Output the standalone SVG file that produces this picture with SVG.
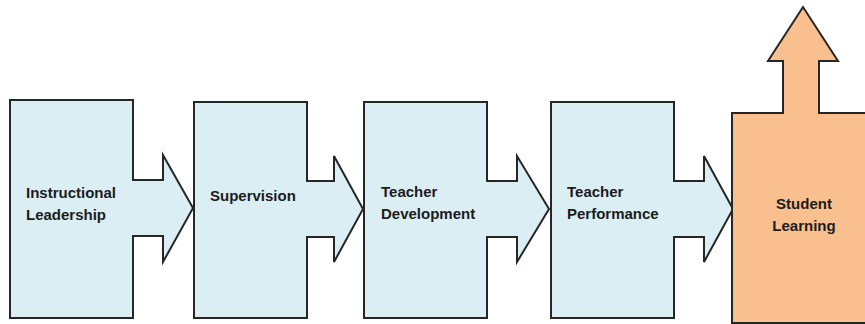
<svg xmlns="http://www.w3.org/2000/svg" width="865" height="324" viewBox="0 0 865 324">
  <style>
    .stage { fill: #dbeef4; stroke: #262626; stroke-width: 2; stroke-linejoin: miter; }
    .goal { fill: #f9bf8f; stroke: #262626; stroke-width: 2; stroke-linejoin: miter; }
    .label { font-family: "Liberation Sans", Arial, sans-serif; font-weight: bold; font-size: 15px; fill: #1c1c1c; }
  </style>
  <rect width="865" height="324" fill="#ffffff"/>

  <g id="instructional-leadership">
    <path class="stage" d="M10,100 H133 V180 H163 V155 L193,208 L163,262 V236 H133 V318 H10 Z"/>
    <text class="label" x="26" y="198">Instructional</text>
    <text class="label" x="26" y="220">Leadership</text>
  </g>

  <g id="supervision">
    <path class="stage" d="M194,102 H307 V181 H334 V156 L363,209 L334,262 V237 H307 V318 H194 Z"/>
    <text class="label" x="210" y="201">Supervision</text>
  </g>

  <g id="teacher-development">
    <path class="stage" d="M364,102 H487 V181 H517 V156 L549,209 L517,262 V237 H487 V318 H364 Z"/>
    <text class="label" x="381" y="197">Teacher</text>
    <text class="label" x="381" y="219">Development</text>
  </g>

  <g id="teacher-performance">
    <path class="stage" d="M551,102 H674 V181 H704 V156 L733,209 L704,262 V237 H674 V318 H551 Z"/>
    <text class="label" x="567" y="197">Teacher</text>
    <text class="label" x="567" y="219">Performance</text>
  </g>

  <g id="student-learning">
    <path class="goal" d="M732,323 V113 H783 V61 H768 L803,7 L838,61 H819 V113 H870 V323 Z"/>
    <text class="label" x="804" y="209" text-anchor="middle">Student</text>
    <text class="label" x="804" y="231" text-anchor="middle">Learning</text>
  </g>

  <g id="connectors"></g>
</svg>
